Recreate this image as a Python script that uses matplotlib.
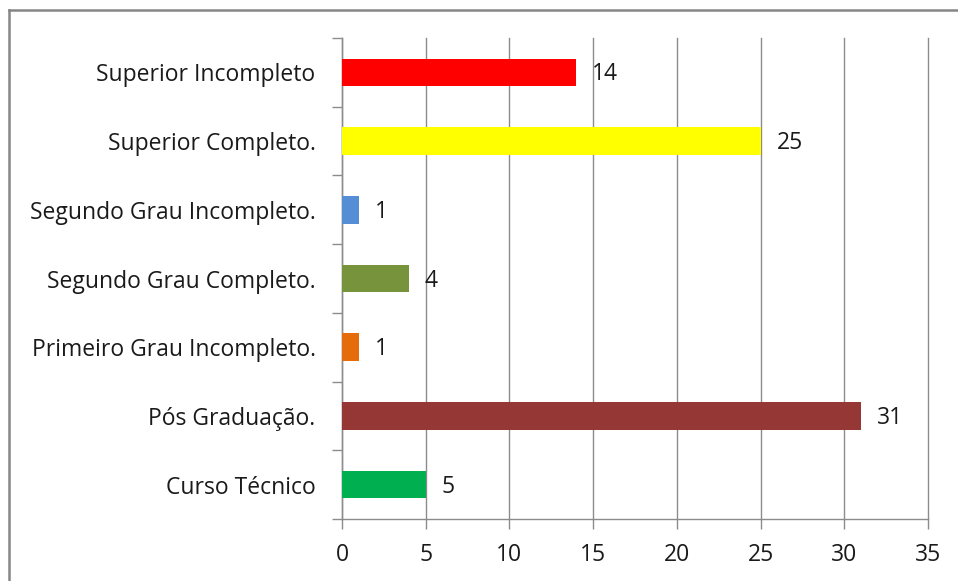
import numpy as np
import matplotlib.pyplot as plt
from matplotlib.lines import Line2D

categorias = ["Curso Técnico", "Pós Graduação.", "Primeiro Grau Incompleto.",
              "Segundo Grau Completo.", "Segundo Grau Incompleto.",
              "Superior Completo.", "Superior Incompleto"]
valores = [5, 31, 1, 4, 1, 25, 14]
cores = ["#00B050", "#953735", "#E46C0A", "#77933C", "#558ED5", "#FFFF00", "#FF0000"]
xticks = [0, 5, 10, 15, 20, 25, 30, 35]

plt.rcParams['font.family'] = ['Open Sans', 'DejaVu Sans']
W, H = 958, 581
fs = 16.5
fig = plt.figure(figsize=(W/100, H/100), dpi=100)
ax = fig.add_axes([342/W, 1 - 519/H, (928-342)/W, (519-38)/H])

y = np.arange(len(categorias))
ax.barh(y, valores, height=0.4, color=cores, zorder=3)
for yi, v in zip(y, valores):
    ax.text(v + 0.95, yi - 0.03, str(v), va='center', ha='left', fontsize=fs, color='#1a1a1a')

grid_c = '#8c8c8c'
ax.set_xlim(0, 35)
ax.set_ylim(-0.5, len(categorias) - 0.5)
ax.set_xticks(xticks)
ax.set_xticklabels([str(t) for t in xticks], fontsize=fs, color='#1a1a1a')
ax.set_yticks(y)
ax.set_yticklabels(categorias, fontsize=fs, color='#1a1a1a')
ax.set_yticks(np.arange(-0.5, len(categorias)), minor=True)
ax.tick_params(axis='y', which='major', length=0, pad=19)
ax.tick_params(axis='y', which='minor', length=7, width=1, color=grid_c, direction='out')
ax.tick_params(axis='x', which='major', length=7, width=1, color=grid_c, pad=10)
ax.xaxis.grid(True, color=grid_c, linewidth=1, zorder=0)
ax.set_axisbelow(True)
for gl in ax.get_xgridlines():
    gl.set_clip_on(False)
for s in ['top', 'right']:
    ax.spines[s].set_visible(False)
for s in ['left', 'bottom']:
    ax.spines[s].set_color(grid_c)
    ax.spines[s].set_linewidth(1)

# moldura do gráfico (só esquerda e topo visíveis)
fig.add_artist(Line2D([9/W, 9/W], [0, 1 - 10/H], transform=fig.transFigure,
                      color='#868686', linewidth=1.8))
fig.add_artist(Line2D([9/W, 1], [1 - 10/H, 1 - 10/H], transform=fig.transFigure,
                      color='#868686', linewidth=1.8))

fig.savefig("out.png", dpi=100)
